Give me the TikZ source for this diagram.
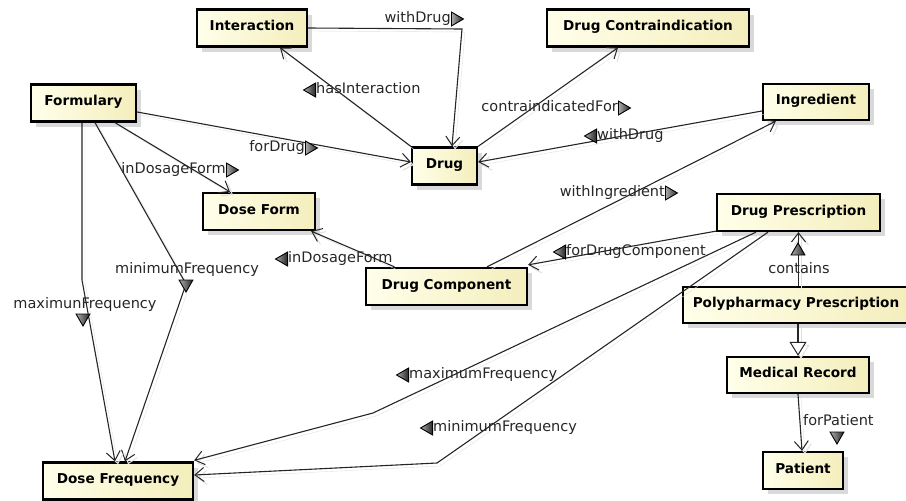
\documentclass[tikz,border=0pt]{standalone}
\usepackage{fontspec}
\setmainfont{DejaVu Sans}
\usetikzlibrary{arrows.meta,shadows,shapes.geometric,positioning,calc}
\definecolor{BoxLeft}{HTML}{FFFFEA}
\definecolor{BoxRight}{HTML}{F4EEBC}
\definecolor{EdgeShade}{HTML}{E0E0E0}

\begin{document}
\begin{tikzpicture}[x=1pt, y=-1pt,
    cls/.style={draw=black, line width=2.3pt, left color=BoxLeft, right color=BoxRight,
        minimum height=37pt, inner sep=0pt, text height=10pt, text depth=5pt,
        font=\fontsize{13.6}{16}\selectfont\bfseries,
        drop shadow={shadow xshift=5pt, shadow yshift=-5pt, fill=black!15, opacity=1}},
    rel/.style={draw=black!85, line width=1.1pt, -{Straight Barb[length=9pt,width=14pt,line width=1pt]},
        preaction={draw=EdgeShade, transform canvas={xshift=3pt,yshift=-3pt}}},
    isa/.style={rel, -{Triangle[length=14pt,width=17pt,fill=white,line width=1pt]}},
    lbl/.style={font=\fontsize{14.5}{17}\selectfont, inner sep=0pt, text height=10pt, text depth=3pt, text=black!85},
    tri/.style={regular polygon, regular polygon sides=3, draw=black, left color=gray!65, right color=black!85,
        line width=0.9pt, minimum size=16pt, inner sep=0pt}]
    \useasboundingbox (0,0) rectangle (906,501);

    % Classes
    \node[cls, minimum width=110pt] (inter) at (252,28) {Interaction};
    \node[cls, minimum width=202pt] (contra) at (648,28) {Drug Contraindication};
    \node[cls, minimum width=105pt] (form) at (83.5,103) {Formulary};
    \node[cls, minimum width=106pt, minimum height=36pt] (ingr) at (816,102) {Ingredient};
    \node[cls, minimum width=65pt] (drug) at (444.5,166) {Drug};
    \node[cls, minimum width=112pt] (dform) at (259,211.5) {Dose Form};
    \node[cls, minimum width=163pt] (dpres) at (798.5,212.5) {Drug Prescription};
    \node[cls, minimum width=161pt] (dcomp) at (446.5,286.5) {Drug Component};
    \node[cls, minimum width=226pt, minimum height=36pt] (poly) at (796,305) {Polypharmacy Prescription};
    \node[cls, minimum width=142pt, minimum height=36pt] (medrec) at (798,375) {Medical Record};
    \node[cls, minimum width=80pt] (patient) at (803,470.5) {Patient};
    \node[cls, minimum width=150pt] (dfreq) at (118,481) {Dose Frequency};

    % Bends
    \coordinate (bendA) at (462,29);
    \coordinate (bendB) at (186,284);
    \coordinate (bendC) at (82,280);
    \coordinate (bendD) at (373,413);
    \coordinate (bendE) at (437,463);

    % Properties
    \draw[rel] (inter.east) -- (bendA) -- ($(drug.north)+(7.5,0)$);
    \draw[rel] (drug.north west) -- ($(inter.south)+(28,0)$);
    \draw[rel] (drug.north east) -- ($(contra.south)+(-30,0)$);
    \draw[rel] ($(ingr.west)+(0,9)$) -- ($(drug.east)+(0,-4)$);
    \draw[rel] ($(form.east)+(0,9)$) -- ($(drug.west)+(0,-4)$);
    \draw[rel] ($(form.south)+(31.5,0)$) -- ($(dform.north)+(-29,0)$);
    \draw[rel] ($(form.south)+(11.5,0)$) -- (bendB) -- ($(dfreq.north)+(7,0)$);
    \draw[rel] ($(form.south)+(-1.5,0)$) -- (bendC) -- ($(dfreq.north)+(-3,0)$);
    \draw[rel] ($(dcomp.north)+(-52,0)$) -- ($(dform.south east)+(-5,0)$);
    \draw[rel] ($(dcomp.north)+(40.5,0)$) -- ($(ingr.south west)+(14,0)$);
    \draw[rel] ($(dpres.south west)+(0,-1)$) -- ($(dcomp.north east)+(0,-2)$);
    \draw[rel] ($(dpres.south)+(-42.5,0)$) -- (bendD) -- ($(dfreq.north east)+(0,-1)$);
    \draw[rel] ($(dpres.south)+(-30.5,0)$) -- (bendE) -- ($(dfreq.east)+(0,-6)$);
    \draw[rel] (dpres.south |- poly.north) -- (dpres.south);
    \draw[isa] (medrec.north |- poly.south) -- (medrec.north);
    \draw[rel] (medrec.south) -- ($(patient.north)+(-1,0)$);

    % Labels
    \node[lbl, anchor=east] (lWithDrugA) at (451,19) {withDrug};
    \node[tri, shape border rotate=-90, right=0pt of lWithDrugA] (tWithDrugA) {};
    \node[lbl, anchor=west] (lHasInter) at (316,90) {hasInteraction};
    \node[tri, shape border rotate=90, left=0pt of lHasInter] (tHasInter) {};
    \node[lbl, anchor=east] (lContra) at (618,108) {contraindicatedFor};
    \node[tri, shape border rotate=-90, right=0pt of lContra] (tContra) {};
    \node[lbl, anchor=west] (lWithDrugB) at (597,136) {withDrug};
    \node[tri, shape border rotate=90, left=0pt of lWithDrugB] (tWithDrugB) {};
    \node[lbl, anchor=east] (lForDrug) at (305,148) {forDrug};
    \node[tri, shape border rotate=-90, right=0pt of lForDrug] (tForDrug) {};
    \node[lbl, anchor=east] (lFormA) at (226,170) {inDosageForm};
    \node[tri, shape border rotate=-90, right=0pt of lFormA] (tFormA) {};
    \node[lbl, anchor=east] (lIngr) at (665,193) {withIngredient};
    \node[tri, shape border rotate=-90, right=0pt of lIngr] (tIngr) {};
    \node[lbl, anchor=west] (lComp) at (566,252) {forDrugComponent};
    \node[tri, shape border rotate=90, left=0pt of lComp] (tComp) {};
    \node[lbl, anchor=west] (lFormB) at (288,259) {inDosageForm};
    \node[tri, shape border rotate=90, left=0pt of lFormB] (tFormB) {};
    \node[lbl] (lMinA) at (187,270) {minimumFrequency};
    \node[tri, shape border rotate=180] (tMinA) at (bendB) {};
    \node[lbl] (lMaxA) at (85,305) {maximunFrequency};
    \node[tri, shape border rotate=180] (tMaxA) at (83,318) {};
    \node[lbl] (lContains) at (799,270) {contains};
    \node[tri] (tContains) at (798,251) {};
    \node[lbl, anchor=west] (lMaxB) at (409,375) {maximumFrequency};
    \node[tri, shape border rotate=90, left=0pt of lMaxB] (tMaxB) {};
    \node[lbl, anchor=west] (lMinB) at (433,428) {minimumFrequency};
    \node[tri, shape border rotate=90, left=0pt of lMinB] (tMinB) {};
    \node[lbl, anchor=west] (lPatient) at (803,422) {forPatient};
    \node[tri, shape border rotate=180] (tPatient) at (837,436) {};
\end{tikzpicture}
\end{document}
